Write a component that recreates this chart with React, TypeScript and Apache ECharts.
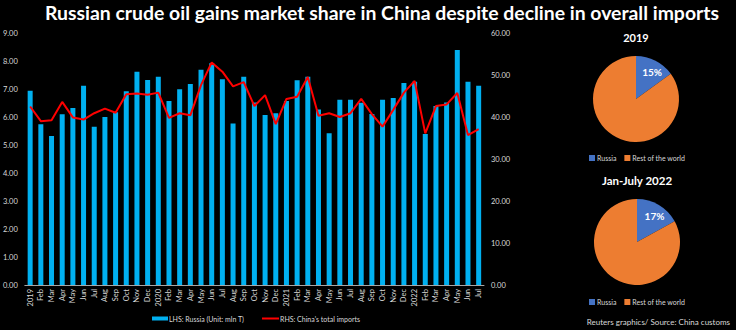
import React, { useEffect, useRef } from "react";
import * as echarts from "echarts";

const months = [
  "2019","Feb","Mar","Apr","May","Jun","Jul","Aug","Sep","Oct","Nov","Dec",
  "2020","Feb","Mar","Apr","May","Jun","Jul","Aug","Sep","Oct","Nov","Dec",
  "2021","Feb","Mar","Apr","May","Jun","Jul","Aug","Sep","Oct","Nov","Dec",
  "2022","Feb","Mar","Apr","May","Jun","Jul",
];

const russiaImports = [
  6.94, 5.74, 5.32, 6.10, 6.32, 7.12, 5.65, 6.00, 6.17, 6.92, 7.62, 7.32,
  7.44, 6.57, 6.99, 7.18, 7.69, 7.92, 7.35, 5.77, 7.44, 6.52, 6.07, 6.13,
  6.57, 7.31, 7.44, 6.27, 5.42, 6.62, 6.62, 6.51, 6.11, 6.62, 6.68, 7.21,
  7.26, 5.39, 6.39, 6.52, 8.39, 7.26, 7.12,
];

const chinaTotalImports = [
  42.5, 39.0, 39.2, 43.6, 39.9, 39.4, 40.9, 42.0, 41.0, 45.4, 45.6, 45.3,
  45.8, 39.8, 40.9, 40.4, 47.6, 53.0, 50.8, 47.3, 48.3, 42.6, 45.2, 38.3,
  44.3, 44.8, 49.5, 40.3, 40.9, 40.0, 40.9, 44.3, 40.7, 37.7, 41.7, 45.8,
  48.6, 36.1, 42.6, 43.0, 45.7, 35.7, 37.1,
];

const pieNames = ["Russia", "Rest of the world"];
const share2019 = [15, 85];
const share2022 = [17, 83];

const LHS = "LHS: Russia (Unit: mln T)";
const RHS = "RHS: China's total imports";

const FONT = "Lato, 'Open Sans', sans-serif";
const TXT = "#d9d9d9";

export default function App() {
  const ref = useRef<HTMLDivElement>(null);
  useEffect(() => {
    if (!ref.current) return;
    const chart = echarts.init(ref.current, undefined, { renderer: "svg" });
    const pieSeries = (center: number[], vals: number[]) => ({
      type: "pie",
      center,
      radius: 43,
      startAngle: 90,
      clockwise: true,
      silent: true,
      label: { show: false },
      labelLine: { show: false },
      data: pieNames.map((n, i) => ({
        name: n,
        value: vals[i],
        itemStyle: { color: i === 0 ? "#4472C4" : "#ED7D31" },
        label:
          i === 0
            ? {
                show: true,
                position: "inside",
                formatter: "{d}%",
                color: "#ffffff",
                fontWeight: "bold",
                fontSize: 10,
                fontFamily: FONT,
              }
            : { show: false },
      })),
      labelLayout: { dx: 5, dy: -5 },
    });
    const pieLegend = (top: number) => ({
      data: pieNames.map((n) => ({ name: n, icon: "rect" })),
      left: 589,
      top,
      padding: 0,
      itemWidth: 6,
      itemHeight: 6,
      itemGap: 8,
      textStyle: { color: TXT, fontSize: 7, fontFamily: FONT, padding: [0, 0, 0, -3] },
      selectedMode: false,
    });
    chart.setOption({
      animation: false,
      backgroundColor: "#000000",
      textStyle: { fontFamily: FONT },
      title: [
        {
          text: "Russian crude oil gains market share in China despite decline in overall imports",
          left: 382,
          top: 3,
          padding: 0,
          textAlign: "center",
          textStyle: { color: "#ffffff", fontSize: 19.4, fontWeight: "bold", fontFamily: FONT },
        },
        {
          text: "2019",
          left: 636,
          top: 32,
          padding: 0,
          textAlign: "center",
          textStyle: { color: "#ffffff", fontSize: 11, fontWeight: "bold", fontFamily: FONT },
        },
        {
          text: "Jan-July 2022",
          left: 637,
          top: 174,
          padding: 0,
          textAlign: "center",
          textStyle: { color: "#ffffff", fontSize: 11.5, fontWeight: "bold", fontFamily: FONT },
        },
        {
          text: "Reuters graphics/ Source: China customs",
          right: 6,
          top: 318,
          padding: 0,
          textStyle: { color: TXT, fontSize: 8, fontWeight: "normal", fontFamily: FONT },
        },
      ],
      legend: [
        {
          data: [{ name: LHS, icon: "rect" }],
          left: 152,
          top: 315,
          padding: 0,
          itemWidth: 16,
          itemHeight: 4,
          textStyle: { color: TXT, fontSize: 7, fontFamily: FONT, padding: [0, 0, 0, -4] },
          selectedMode: false,
        },
        {
          data: [{ name: RHS, icon: "rect" }],
          left: 262,
          top: 315,
          padding: 0,
          itemWidth: 17,
          itemHeight: 2,
          textStyle: { color: TXT, fontSize: 7, fontFamily: FONT, padding: [0, 0, 0, -4] },
          selectedMode: false,
        },
        pieLegend(154.5),
        pieLegend(298.5),
      ],
      grid: { left: 24, width: 460, top: 33, bottom: 45 },
      xAxis: {
        type: "category",
        data: months,
        axisLine: { lineStyle: { color: "#a6a6a6" } },
        axisTick: { show: false },
        axisLabel: { color: TXT, fontSize: 7.5, rotate: 90, interval: 0, margin: 4, fontFamily: FONT },
      },
      yAxis: [
        {
          type: "value",
          min: 0,
          max: 9,
          interval: 1,
          splitLine: { show: false },
          axisLabel: { color: TXT, fontSize: 7.5, formatter: (v: number) => v.toFixed(2), margin: 7, fontFamily: FONT },
        },
        {
          type: "value",
          min: 0,
          max: 60,
          interval: 10,
          splitLine: { show: false },
          axisLabel: { color: TXT, fontSize: 7.5, formatter: (v: number) => v.toFixed(2), margin: 7, fontFamily: FONT },
        },
      ],
      series: [
        {
          name: LHS,
          type: "bar",
          data: russiaImports,
          barWidth: 5,
          itemStyle: { color: "#00B0F0" },
          yAxisIndex: 0,
        },
        {
          name: RHS,
          type: "line",
          data: chinaTotalImports,
          yAxisIndex: 1,
          symbol: "none",
          lineStyle: { color: "#FF0000", width: 2 },
          itemStyle: { color: "#FF0000" },
        },
        pieSeries([636, 99], share2019),
        pieSeries([637, 242], share2022),
      ],
    });
    return () => chart.dispose();
  }, []);
  return (
    <div
      ref={ref}
      style={{ position: "absolute", left: 0, top: 0, width: 736, height: 330 }}
    />
  );
}
